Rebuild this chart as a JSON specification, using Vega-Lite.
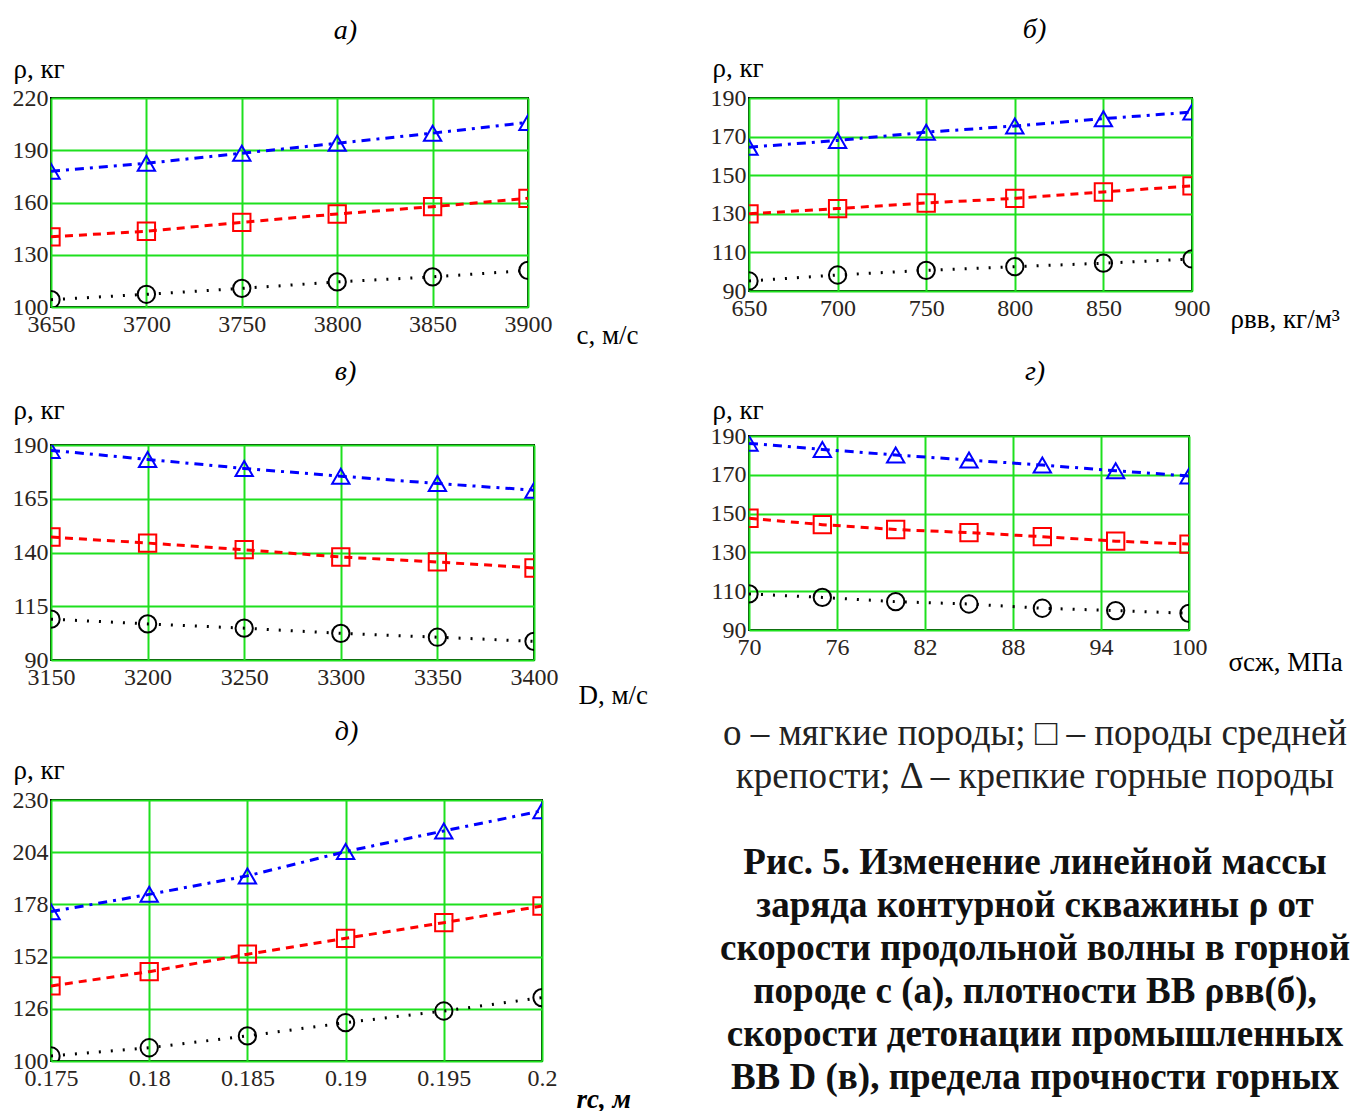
{
  "$schema": "https://vega.github.io/schema/vega-lite/v6.json",
  "padding": {"left": 11, "top": 15, "right": 0, "bottom": 0},
  "background": "white",
  "datasets": {
    "a": [
      {"x": 3650, "rho": 104.2, "s": "soft"}, {"x": 3700, "rho": 107.3, "s": "soft"}, {"x": 3750, "rho": 110.7, "s": "soft"}, {"x": 3800, "rho": 114.4, "s": "soft"}, {"x": 3850, "rho": 117.3, "s": "soft"}, {"x": 3900, "rho": 121.0, "s": "soft"},
      {"x": 3650, "rho": 140.3, "s": "medium"}, {"x": 3700, "rho": 143.5, "s": "medium"}, {"x": 3750, "rho": 148.6, "s": "medium"}, {"x": 3800, "rho": 153.4, "s": "medium"}, {"x": 3850, "rho": 157.6, "s": "medium"}, {"x": 3900, "rho": 162.4, "s": "medium"},
      {"x": 3650, "rho": 178.0, "s": "hard"}, {"x": 3700, "rho": 182.5, "s": "hard"}, {"x": 3750, "rho": 188.3, "s": "hard"}, {"x": 3800, "rho": 194.0, "s": "hard"}, {"x": 3850, "rho": 199.8, "s": "hard"}, {"x": 3900, "rho": 206.0, "s": "hard"}
    ],
    "b": [
      {"x": 650, "rho": 95.2, "s": "soft"}, {"x": 700, "rho": 98.3, "s": "soft"}, {"x": 750, "rho": 100.7, "s": "soft"}, {"x": 800, "rho": 102.6, "s": "soft"}, {"x": 850, "rho": 104.4, "s": "soft"}, {"x": 900, "rho": 106.6, "s": "soft"},
      {"x": 650, "rho": 130.0, "s": "medium"}, {"x": 700, "rho": 132.7, "s": "medium"}, {"x": 750, "rho": 135.6, "s": "medium"}, {"x": 800, "rho": 138.0, "s": "medium"}, {"x": 850, "rho": 141.3, "s": "medium"}, {"x": 900, "rho": 144.5, "s": "medium"},
      {"x": 650, "rho": 164.5, "s": "hard"}, {"x": 700, "rho": 168.0, "s": "hard"}, {"x": 750, "rho": 172.3, "s": "hard"}, {"x": 800, "rho": 175.5, "s": "hard"}, {"x": 850, "rho": 179.3, "s": "hard"}, {"x": 900, "rho": 182.7, "s": "hard"}
    ],
    "v": [
      {"x": 3150, "rho": 109.0, "s": "soft"}, {"x": 3200, "rho": 106.8, "s": "soft"}, {"x": 3250, "rho": 104.8, "s": "soft"}, {"x": 3300, "rho": 102.4, "s": "soft"}, {"x": 3350, "rho": 100.6, "s": "soft"}, {"x": 3400, "rho": 98.7, "s": "soft"},
      {"x": 3150, "rho": 147.2, "s": "medium"}, {"x": 3200, "rho": 144.4, "s": "medium"}, {"x": 3250, "rho": 141.3, "s": "medium"}, {"x": 3300, "rho": 137.9, "s": "medium"}, {"x": 3350, "rho": 135.6, "s": "medium"}, {"x": 3400, "rho": 132.8, "s": "medium"},
      {"x": 3150, "rho": 187.5, "s": "hard"}, {"x": 3200, "rho": 183.3, "s": "hard"}, {"x": 3250, "rho": 179.1, "s": "hard"}, {"x": 3300, "rho": 175.5, "s": "hard"}, {"x": 3350, "rho": 172.1, "s": "hard"}, {"x": 3400, "rho": 169.0, "s": "hard"}
    ],
    "g": [
      {"x": 70, "rho": 108.6, "s": "soft"}, {"x": 75, "rho": 106.8, "s": "soft"}, {"x": 80, "rho": 104.6, "s": "soft"}, {"x": 85, "rho": 103.4, "s": "soft"}, {"x": 90, "rho": 101.2, "s": "soft"}, {"x": 95, "rho": 100.0, "s": "soft"}, {"x": 100, "rho": 98.6, "s": "soft"},
      {"x": 70, "rho": 147.6, "s": "medium"}, {"x": 75, "rho": 144.3, "s": "medium"}, {"x": 80, "rho": 141.8, "s": "medium"}, {"x": 85, "rho": 140.2, "s": "medium"}, {"x": 90, "rho": 138.1, "s": "medium"}, {"x": 95, "rho": 135.8, "s": "medium"}, {"x": 100, "rho": 134.3, "s": "medium"},
      {"x": 70, "rho": 186.2, "s": "hard"}, {"x": 75, "rho": 183.1, "s": "hard"}, {"x": 80, "rho": 180.2, "s": "hard"}, {"x": 85, "rho": 177.6, "s": "hard"}, {"x": 90, "rho": 175.0, "s": "hard"}, {"x": 95, "rho": 172.1, "s": "hard"}, {"x": 100, "rho": 169.4, "s": "hard"}
    ],
    "d": [
      {"x": 0.175, "rho": 102.5, "s": "soft"}, {"x": 0.18, "rho": 106.6, "s": "soft"}, {"x": 0.185, "rho": 112.5, "s": "soft"}, {"x": 0.19, "rho": 119.1, "s": "soft"}, {"x": 0.195, "rho": 124.9, "s": "soft"}, {"x": 0.2, "rho": 131.6, "s": "soft"},
      {"x": 0.175, "rho": 137.4, "s": "medium"}, {"x": 0.18, "rho": 144.5, "s": "medium"}, {"x": 0.185, "rho": 153.2, "s": "medium"}, {"x": 0.19, "rho": 161.1, "s": "medium"}, {"x": 0.195, "rho": 168.9, "s": "medium"}, {"x": 0.2, "rho": 177.2, "s": "medium"},
      {"x": 0.175, "rho": 174.4, "s": "hard"}, {"x": 0.18, "rho": 183.0, "s": "hard"}, {"x": 0.185, "rho": 192.2, "s": "hard"}, {"x": 0.19, "rho": 204.3, "s": "hard"}, {"x": 0.195, "rho": 214.6, "s": "hard"}, {"x": 0.2, "rho": 224.6, "s": "hard"}
    ],
    "legendText": [
      {"line": 1, "text": "о – мягкие породы; □ – породы средней"},
      {"line": 2, "text": "крепости; Δ – крепкие горные породы"}
    ],
    "captionText": [
      {"line": 4, "text": "Рис. 5. Изменение линейной массы"},
      {"line": 5, "text": "заряда контурной скважины ρ от"},
      {"line": 6, "text": "скорости продольной волны в горной"},
      {"line": 7, "text": "породе с (а), плотности ВВ ρвв(б),"},
      {"line": 8, "text": "скорости детонации промышленных"},
      {"line": 9, "text": "ВВ D (в), предела прочности горных"}
    ]
  },
  "hconcat": [
    {
      "concat": [
        {
          "width": 477, "height": 209,
          "title": {"text": "а)", "dx": 56, "offset": 10},
          "data": {"name": "a"},
          "encoding": {
            "x": {"field": "x", "type": "quantitative", "scale": {"domain": [3650, 3900], "nice": false, "zero": false},
                  "axis": {"values": [3650, 3700, 3750, 3800, 3850, 3900], "format": "d", "title": "c, м/с", "titleX": 525, "titleY": 36}},
            "y": {"field": "rho", "type": "quantitative", "scale": {"domain": [100, 220], "nice": false, "zero": false},
                  "axis": {"values": [100, 130, 160, 190, 220], "format": "d", "title": "ρ, кг", "titleX": -38, "titleY": -21}},
            "color": {"field": "s", "type": "nominal", "scale": {"domain": ["soft", "medium", "hard"], "range": ["#000000", "#ff0000", "#0000ff"]}, "legend": null}
          },
          "layer": [
            {"mark": {"type": "line", "strokeWidth": 3, "clip": true},
             "encoding": {"strokeDash": {"field": "s", "type": "nominal", "scale": {"domain": ["soft", "medium", "hard"], "range": [[2, 10], [8, 6], [9, 6, 3, 6]]}, "legend": null}}},
            {"mark": {"type": "point", "filled": false, "size": 300, "strokeWidth": 2, "opacity": 1, "clip": true},
             "encoding": {"shape": {"field": "s", "type": "nominal", "scale": {"domain": ["soft", "medium", "hard"], "range": ["circle", "square", "triangle-up"]}, "legend": null}}}
          ]
        },
        {
          "width": 483, "height": 215,
          "title": {"text": "в)", "dx": 53, "offset": 10},
          "data": {"name": "v"},
          "encoding": {
            "x": {"field": "x", "type": "quantitative", "scale": {"domain": [3150, 3400], "nice": false, "zero": false},
                  "axis": {"values": [3150, 3200, 3250, 3300, 3350, 3400], "format": "d", "title": "D, м/с", "titleX": 527, "titleY": 43}},
            "y": {"field": "rho", "type": "quantitative", "scale": {"domain": [90, 190], "nice": false, "zero": false},
                  "axis": {"values": [90, 115, 140, 165, 190], "format": "d", "title": "ρ, кг", "titleX": -38, "titleY": -27}},
            "color": {"field": "s", "type": "nominal", "scale": {"domain": ["soft", "medium", "hard"], "range": ["#000000", "#ff0000", "#0000ff"]}, "legend": null}
          },
          "layer": [
            {"mark": {"type": "line", "strokeWidth": 3, "clip": true},
             "encoding": {"strokeDash": {"field": "s", "type": "nominal", "scale": {"domain": ["soft", "medium", "hard"], "range": [[2, 10], [8, 6], [9, 6, 3, 6]]}, "legend": null}}},
            {"mark": {"type": "point", "filled": false, "size": 300, "strokeWidth": 2, "opacity": 1, "clip": true},
             "encoding": {"shape": {"field": "s", "type": "nominal", "scale": {"domain": ["soft", "medium", "hard"], "range": ["circle", "square", "triangle-up"]}, "legend": null}}}
          ]
        },
        {
          "width": 491, "height": 261,
          "title": {"text": "д)", "dx": 50, "offset": 10},
          "data": {"name": "d"},
          "encoding": {
            "x": {"field": "x", "type": "quantitative", "scale": {"domain": [0.175, 0.2], "nice": false, "zero": false},
                  "axis": {"values": [0.175, 0.18, 0.185, 0.19, 0.195, 0.2], "format": "~g", "title": "rс, м", "titleX": 525, "titleY": 46, "titleFontStyle": "italic", "titleFontWeight": "bold"}},
            "y": {"field": "rho", "type": "quantitative", "scale": {"domain": [100, 230], "nice": false, "zero": false},
                  "axis": {"values": [100, 126, 152, 178, 204, 230], "format": "d", "title": "ρ, кг", "titleX": -38, "titleY": -22}},
            "color": {"field": "s", "type": "nominal", "scale": {"domain": ["soft", "medium", "hard"], "range": ["#000000", "#ff0000", "#0000ff"]}, "legend": null}
          },
          "layer": [
            {"mark": {"type": "line", "strokeWidth": 3, "clip": true},
             "encoding": {"strokeDash": {"field": "s", "type": "nominal", "scale": {"domain": ["soft", "medium", "hard"], "range": [[2, 10], [8, 6], [9, 6, 3, 6]]}, "legend": null}}},
            {"mark": {"type": "point", "filled": false, "size": 300, "strokeWidth": 2, "opacity": 1, "clip": true},
             "encoding": {"shape": {"field": "s", "type": "nominal", "scale": {"domain": ["soft", "medium", "hard"], "range": ["circle", "square", "triangle-up"]}, "legend": null}}}
          ]
        }
      ],
      "columns": 1,
      "spacing": 8
    },
    {
      "concat": [
        {
          "width": 443, "height": 193,
          "title": {"text": "б)", "dx": 64, "offset": 10},
          "data": {"name": "b"},
          "encoding": {
            "x": {"field": "x", "type": "quantitative", "scale": {"domain": [650, 900], "nice": false, "zero": false},
                  "axis": {"values": [650, 700, 750, 800, 850, 900], "format": "d", "title": "ρвв, кг/м³", "titleX": 481, "titleY": 36}},
            "y": {"field": "rho", "type": "quantitative", "scale": {"domain": [90, 190], "nice": false, "zero": false},
                  "axis": {"values": [90, 110, 130, 150, 170, 190], "format": "d", "title": "ρ, кг", "titleX": -37, "titleY": -22}},
            "color": {"field": "s", "type": "nominal", "scale": {"domain": ["soft", "medium", "hard"], "range": ["#000000", "#ff0000", "#0000ff"]}, "legend": null}
          },
          "layer": [
            {"mark": {"type": "line", "strokeWidth": 3, "clip": true},
             "encoding": {"strokeDash": {"field": "s", "type": "nominal", "scale": {"domain": ["soft", "medium", "hard"], "range": [[2, 10], [8, 6], [9, 6, 3, 6]]}, "legend": null}}},
            {"mark": {"type": "point", "filled": false, "size": 300, "strokeWidth": 2, "opacity": 1, "clip": true},
             "encoding": {"shape": {"field": "s", "type": "nominal", "scale": {"domain": ["soft", "medium", "hard"], "range": ["circle", "square", "triangle-up"]}, "legend": null}}}
          ]
        },
        {
          "width": 440, "height": 194,
          "title": {"text": "г)", "dx": 66, "offset": 10},
          "data": {"name": "g"},
          "encoding": {
            "x": {"field": "x", "type": "quantitative", "scale": {"domain": [70, 100], "nice": false, "zero": false},
                  "axis": {"values": [70, 76, 82, 88, 94, 100], "format": "d", "title": "σсж, МПа", "titleX": 479, "titleY": 40}},
            "y": {"field": "rho", "type": "quantitative", "scale": {"domain": [90, 190], "nice": false, "zero": false},
                  "axis": {"values": [90, 110, 130, 150, 170, 190], "format": "d", "title": "ρ, кг", "titleX": -37, "titleY": -18}},
            "color": {"field": "s", "type": "nominal", "scale": {"domain": ["soft", "medium", "hard"], "range": ["#000000", "#ff0000", "#0000ff"]}, "legend": null}
          },
          "layer": [
            {"mark": {"type": "line", "strokeWidth": 3, "clip": true},
             "encoding": {"strokeDash": {"field": "s", "type": "nominal", "scale": {"domain": ["soft", "medium", "hard"], "range": [[2, 10], [8, 6], [9, 6, 3, 6]]}, "legend": null}}},
            {"mark": {"type": "point", "filled": false, "size": 300, "strokeWidth": 2, "opacity": 1, "clip": true},
             "encoding": {"shape": {"field": "s", "type": "nominal", "scale": {"domain": ["soft", "medium", "hard"], "range": ["circle", "square", "triangle-up"]}, "legend": null}}}
          ]
        },
        {
          "width": 572, "height": 378,
          "view": {"stroke": null},
          "encoding": {
            "y": {"field": "line", "type": "quantitative", "scale": {"domain": [0.2, 9], "nice": false, "zero": false, "reverse": true}, "axis": null},
            "text": {"field": "text", "type": "nominal"}
          },
          "layer": [
            {"data": {"name": "legendText"},
             "mark": {"type": "text", "font": "Liberation Serif", "fontSize": 37, "baseline": "middle", "align": "center", "color": "#222222"}},
            {"data": {"name": "captionText"},
             "mark": {"type": "text", "font": "Liberation Serif", "fontSize": 37, "fontWeight": "bold", "baseline": "middle", "align": "center", "color": "#111111"}}
          ]
        }
      ],
      "columns": 1,
      "spacing": 24
    }
  ],
  "spacing": 60,
  "config": {
    "view": {"stroke": "#000000", "strokeWidth": 2, "fill": "white"},
    "title": {"font": "Liberation Serif", "fontSize": 28, "fontStyle": "italic", "fontWeight": "normal", "color": "#000000", "anchor": "middle", "frame": "group"},
    "axis": {
      "labelFont": "Liberation Serif", "labelFontSize": 24, "labelColor": "#2a2420",
      "titleFont": "Liberation Serif", "titleFontSize": 27, "titleFontWeight": "normal", "titleColor": "#000000",
      "grid": true, "gridColor": "#1ee01e", "gridWidth": 2, "gridOpacity": 1,
      "domain": false, "ticks": false, "labelFlush": false, "labelOverlap": false, "labelBound": false
    },
    "axisX": {"labelPadding": 5, "titleAlign": "left", "titleBaseline": "alphabetic", "titleAngle": 0},
    "axisY": {"labelPadding": 3, "titleAlign": "left", "titleBaseline": "alphabetic", "titleAngle": 0}
  }
}
